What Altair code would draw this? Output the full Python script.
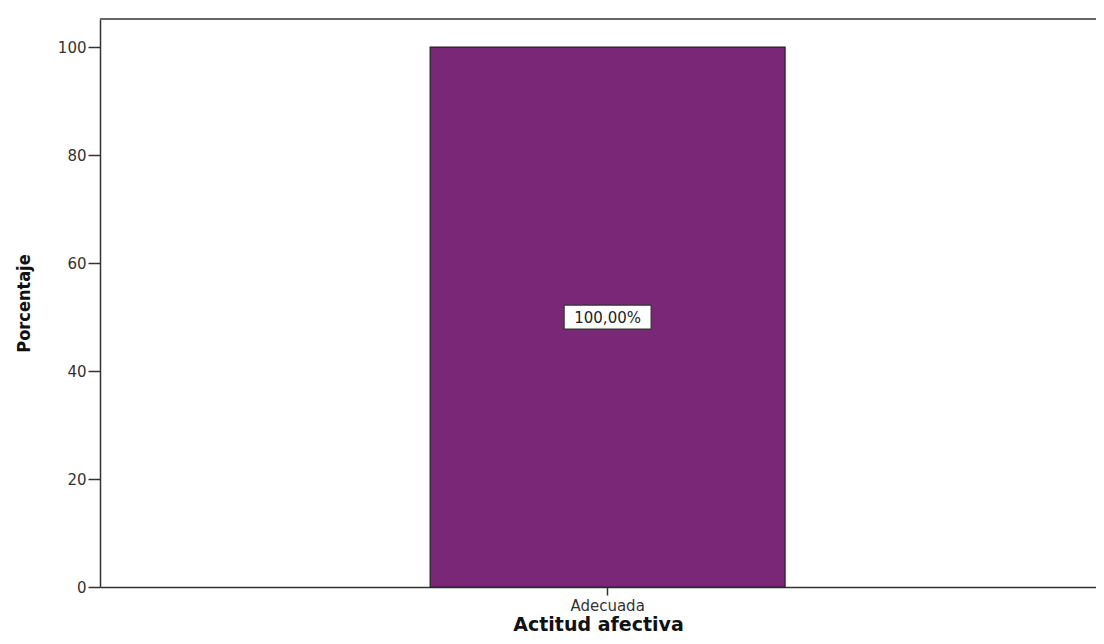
import altair as alt
import pandas as pd

categories = ["Adecuada"]
values = [100.0]
labels = ["100,00%"]
y_ticks = [0, 20, 40, 60, 80, 100]

df = pd.DataFrame({"cat": categories, "val": values, "lab": labels})

W, H = 996, 568

xscale = alt.Scale(paddingInner=0, paddingOuter=0.903, align=0.515)
yscale = alt.Scale(domain=[0, 105.2], nice=False)

base = alt.Chart(df)

bars = base.mark_bar(color="#7B2777", stroke="#222222", strokeWidth=1.2).encode(
    x=alt.X("cat:N", scale=xscale, sort=categories,
            axis=alt.Axis(title="Actitud afectiva", labelAngle=0, labelFont="DejaVu Sans",
                          labelFontSize=15, labelColor="#333333", labelPadding=3,
                          tickSize=8, tickColor="#333333", tickWidth=1.5,
                          domainColor="#333333", domainWidth=1.5,
                          titleFont="DejaVu Sans", titleFontSize=19, titleFontWeight="bold",
                          titleColor="#111111", titleY=43, titleBaseline="alphabetic")),
    y=alt.Y("val:Q", scale=yscale,
            axis=alt.Axis(values=y_ticks, title="Porcentaje", grid=False,
                          labelFont="DejaVu Sans", labelFontSize=15, labelColor="#333333",
                          labelPadding=2, tickSize=12, tickColor="#333333", tickWidth=1.5,
                          domainColor="#333333", domainWidth=1.5,
                          titleFont="'Liberation Sans Narrow', 'DejaVu Sans Condensed', 'Roboto Condensed', Roboto, sans-serif",
                          titleFontSize=18,
                          titleFontWeight="bold", titleColor="#111111",
                          titleX=-76, titleY=284, titleAngle=-90, titleAlign="center",
                          titleBaseline="middle")),
)

box = base.transform_calculate(mid="datum.val / 2").mark_rect(
    width=87, height=24, fill="white", stroke="#333333", strokeWidth=1.2
).encode(
    x=alt.X("cat:N", scale=xscale, sort=categories),
    y=alt.Y("mid:Q", scale=yscale),
)

text = base.transform_calculate(mid="datum.val / 2").mark_text(
    font="DejaVu Sans", fontSize=15, color="#222222", baseline="middle", align="center", dy=1
).encode(
    x=alt.X("cat:N", scale=xscale, sort=categories),
    y=alt.Y("mid:Q", scale=yscale),
    text="lab:N",
)

top_line = base.mark_rule(color="#666666", strokeWidth=2).encode(
    y=alt.value(0), x=alt.value(0), x2=alt.value(W)
)

chart = alt.layer(bars, box, text, top_line).properties(
    width=W, height=H,
    autosize=alt.AutoSizeParams(type="none"),
    padding={"left": 92, "top": 11, "right": 0, "bottom": 49},
).configure_view(stroke=None).configure(background="white")

chart.save("out.html", embed_options={"renderer": "svg", "actions": False})
